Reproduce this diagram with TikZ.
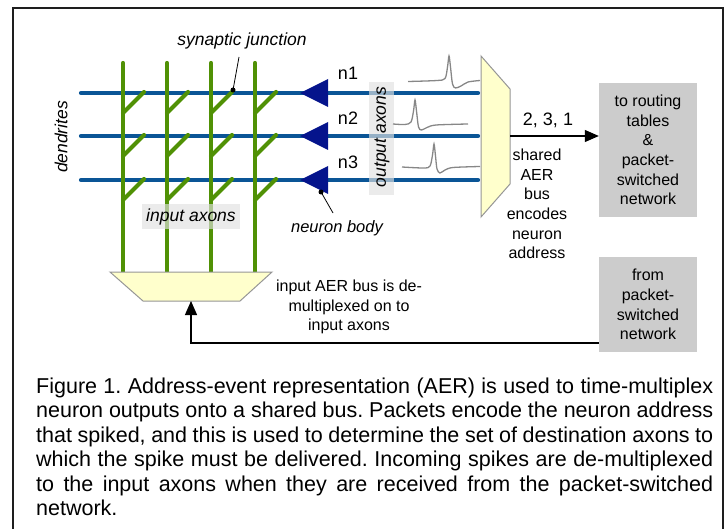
\documentclass[tikz,border=0pt]{standalone}
\usepackage{fontspec}
\setmainfont{Liberation Sans}
\usetikzlibrary{arrows.meta,calc}
\definecolor{axonblue}{RGB}{10,85,150}
\definecolor{somablue}{RGB}{5,20,140}
\definecolor{dendgreen}{RGB}{80,145,5}
\definecolor{muxfill}{RGB}{255,255,204}
\definecolor{muxline}{RGB}{150,150,150}
\definecolor{boxgray}{RGB}{204,204,204}
\definecolor{spikegray}{RGB}{135,135,135}
\definecolor{bandgray}{RGB}{225,225,225}
\definecolor{framecol}{RGB}{30,30,30}
\tikzset{
  lbl/.style={font=\fontsize{16}{19.7}\selectfont, align=center, inner sep=0pt},
  ital/.style={font=\fontsize{17.5}{20}\selectfont\itshape, inner sep=0pt},
  nlab/.style={font=\fontsize{18}{20}\selectfont, inner sep=0pt},
  axon/.style={axonblue, line width=4.2pt, line cap=round},
  dend/.style={dendgreen, line width=4.2pt, line cap=round},
  muxshape/.style={fill=muxfill, draw=muxline, line width=1pt, line join=miter},
  graybox/.style={fill=boxgray, minimum width=98pt, inner sep=0pt, font=\fontsize{16}{19.7}\selectfont, align=center},
  band/.style={fill=bandgray, fill opacity=0.65, text opacity=1, inner sep=0pt},
  spike/.style={spikegray, line width=1.3pt},
  conn/.style={line width=1.2pt, -{Triangle[length=14pt,width=12pt]}},
  leader/.style={line width=0.8pt},
  dot/.style={circle, fill=black, inner sep=0pt, minimum size=5pt},
  capline/.style={anchor=base west, inner sep=0pt, font=\fontsize{21.5}{24.5}\selectfont\frenchspacing}
}
\begin{document}
\begin{tikzpicture}[x=1pt,y=-1pt]
\useasboundingbox (0,0) rectangle (727,529);
% frame (open at the bottom)
\draw[framecol, line width=1.5pt] (13,529) -- (13,8) -- (723,8) -- (723,529);

% output axons (blue horizontal lines)
\foreach \i/\y in {1/93,2/136,3/180}{
  \coordinate (aw\i) at (81,\y);
  \coordinate (ae\i) at (478,\y);
  \draw[axon] (aw\i) -- (ae\i);
}
% input axons with dendrite branches
\foreach \j/\x in {1/123,2/167,3/211,4/255}{
  \coordinate (vt\j) at (\x,63);
  \coordinate (vb\j) at (\x,274);
  \draw[dend] (vt\j) -- (vb\j);
  \foreach \y in {93,136,180}{
    \draw[dend] (\x,\y+20) -- (\x+21,\y-1);
  }
}
% neuron bodies
\foreach \y in {93,136,180}{
  \fill[somablue] (300,\y) -- (328,\y-14) -- (328,\y+14) -- cycle;
}

% bands
\node[band, minimum width=98pt, minimum height=25pt] (inax) at (191,216.5) {};
\node[ital] (inaxl) at (191,217) {input axons};
\node[band, minimum width=25pt, minimum height=113pt] (outax) at (381.5,138.5) {};
\node[ital, rotate=90] (outaxl) at (382,137) {output axons};

% spikes
\draw[spike] plot[smooth, tension=0.5] coordinates {(408,81.5) (437,80.5) (445,78.5) (447.5,67) (449,56) (450.5,67) (452.5,84) (455.5,88) (461,86) (468,82) (480,80.5)};
\draw[spike] plot[smooth, tension=0.5] coordinates {(393,124) (405,124.5) (411,122) (413.5,111) (415,100) (416.5,111) (418.5,127) (421.5,130) (427,127.5) (436,125) (468,124)};
\draw[spike] plot[smooth, tension=0.5] coordinates {(402,167) (424,168) (430,166) (432.5,155) (434,144) (435.5,156) (437,169) (440,173) (445,170) (453,167.5) (480,166.5)};

% multiplexer and demultiplexer
\draw[muxshape] (481,56) -- (510,89) -- (510,184) -- (481,217) -- cycle;
\coordinate (muxout) at (510,136);
\draw[muxshape] (110,272) -- (272,272) -- (240,301) -- (143,301) -- cycle;
\coordinate (demuxin) at (191,301);

% gray boxes
\node[graybox, minimum height=134pt] (route) at (648,150) {to routing\\tables\\\&\\packet-\\switched\\network};
\node[graybox, minimum height=95pt] (from) at (648,304.5) {from\\packet-\\switched\\network};

% connectors
\draw[conn] (muxout) -- (muxout -| route.west);
\coordinate (fromout) at (from.west |- 0,343);
\draw[conn] (fromout) -| (demuxin);

% labels
\node[nlab] (n1) at (348,73) {n1};
\node[nlab] (n2) at (348,118) {n2};
\node[nlab] (n3) at (348,162) {n3};
\node[nlab] (seq) at (548,120) {2, 3, 1};
\node[lbl] (shared) at (537,204) {shared\\AER\\bus\\encodes\\neuron\\address};
\node[lbl] (inbus) at (349,307) {input AER bus is de-\\multiplexed on to\\input axons};
\node[ital, rotate=90] (dend) at (61,137) {dendrites};
\node[ital] (sjl) at (242,41) {synaptic junction};
\node[dot] (sj) at (233,90) {};
\coordinate (sjt) at (239,57);
\draw[leader] (sjt) -- (sj.center);
\node[ital, font=\fontsize{16.5}{20}\selectfont\itshape] (nb) at (337,228) {neuron body};
\node[dot] (nbd) at (321,192) {};
\coordinate (nbt) at (333,213);
\draw[leader] (nbt) -- (nbd.center);

% caption
\node[capline] (c1) at (36,393) {\makebox[677pt][s]{Figure 1. Address-event representation (AER) is used to time-multiplex}};
\node[capline] (c2) at (36,417.5) {\makebox[677pt][s]{neuron outputs onto a shared bus. Packets encode the neuron address}};
\node[capline] (c3) at (36,442) {\makebox[677pt][s]{that spiked, and this is used to determine the set of destination axons to}};
\node[capline] (c4) at (36,466.5) {\makebox[677pt][s]{which the spike must be delivered. Incoming spikes are de-multiplexed}};
\node[capline] (c5) at (36,491) {\makebox[677pt][s]{to the input axons when they are received from the packet-switched}};
\node[capline] (c6) at (36,515.5) {network.};
\end{tikzpicture}
\end{document}
